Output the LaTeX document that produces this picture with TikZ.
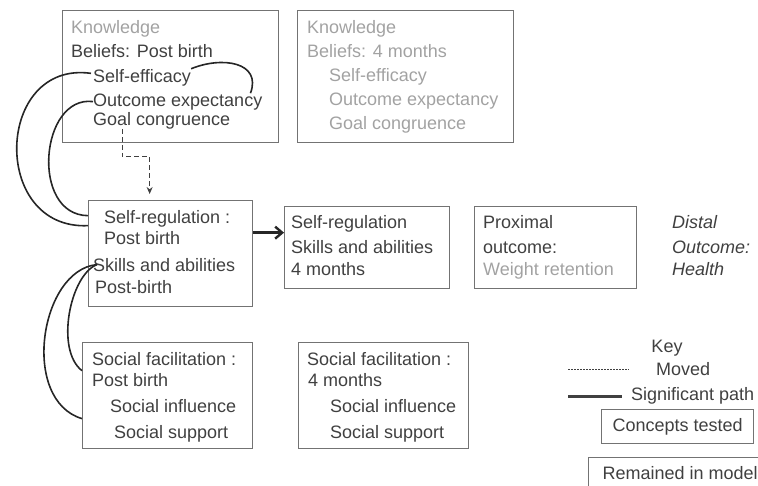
\documentclass[tikz,border=0pt]{standalone}
\usepackage{fontspec}
\setmainfont{Liberation Sans}
\usetikzlibrary{arrows.meta}
\definecolor{txtdark}{HTML}{404040}
\definecolor{txtlight}{HTML}{A2A2A2}
\definecolor{boxgray}{HTML}{737373}
\definecolor{pathdark}{HTML}{262626}

\begin{document}
\begin{tikzpicture}[x = 1pt, y = -1pt,
    box/.style = {draw = boxgray, line width = 1.3pt, anchor = north west, inner sep = 0pt},
    txt/.style = {anchor = base west, inner sep = 0pt, text = txtdark, font = \fontsize{18}{21}\selectfont},
    pale/.style = {txt, text = txtlight},
    sig/.style = {draw = pathdark, line width = 1.6pt},
    moved/.style = {draw = txtdark, line width = 1pt, dash pattern = on 5pt off 3pt}]
  \path [use as bounding box, clip] (0,0) rectangle (758,485);

  % beliefs
  \node [box, minimum width = 216pt, minimum height = 132pt] (beliefs0) at (62,10) {};
  \node [pale] (know0) at (71,33) {Knowledge};
  \node [txt] (bel0) at (71,57) {Beliefs: Post birth};
  \node [txt] (se0) at (93,82) {Self-efficacy};
  \node [txt] (oe0) at (93,106) {Outcome expectancy};
  \node [txt] (gc0) at (93,125) {Goal congruence};

  \node [box, minimum width = 216pt, minimum height = 132pt] (beliefs4) at (297,10) {};
  \node [pale] (know4) at (307,33) {Knowledge};
  \node [pale] (bel4) at (307,57) {Beliefs: 4 months};
  \node [pale] (se4) at (329,81) {Self-efficacy};
  \node [pale] (oe4) at (329,105) {Outcome expectancy};
  \node [pale] (gc4) at (329,129) {Goal congruence};

  % self-regulation and outcomes
  \node [box, minimum width = 164pt, minimum height = 106pt] (selfreg0) at (88,200) {};
  \node [txt] (sr0) at (104,223) {Self-regulation :};
  \node [txt] (pb0) at (104,244) {Post birth};
  \node [txt] (sk0) at (93,271) {Skills and abilities};
  \node [txt] (pbb0) at (95,293) {Post-birth};

  \node [box, minimum width = 165pt, minimum height = 82pt] (selfreg4) at (284,206) {};
  \node [txt] (sr4) at (291,228) {Self-regulation};
  \node [txt] (sk4) at (291,253) {Skills and abilities};
  \node [txt] (fm4) at (291,275) {4 months};

  \node [box, minimum width = 162pt, minimum height = 82pt] (proximal) at (474,206) {};
  \node [txt] (prox1) at (483,228) {Proximal};
  \node [txt] (prox2) at (483,253) {outcome:};
  \node [pale] (prox3) at (483,275) {Weight retention};

  \node [txt] (dist1) at (672,228) {\itshape Distal};
  \node [txt] (dist2) at (672,253) {\itshape Outcome:};
  \node [txt] (dist3) at (672,275) {\itshape Health};

  % social facilitation
  \node [box, minimum width = 170pt, minimum height = 106pt] (social0) at (82,342) {};
  \node [txt] (sf0) at (92,365) {Social facilitation :};
  \node [txt] (pb1) at (92,386) {Post birth};
  \node [txt] (si0) at (110,412) {Social influence};
  \node [txt] (ss0) at (114,438) {Social support};

  \node [box, minimum width = 170pt, minimum height = 106pt] (social4) at (298,342) {};
  \node [txt] (sf4) at (307,365) {Social facilitation :};
  \node [txt] (fm5) at (308,386) {4 months};
  \node [txt] (si4) at (330,412) {Social influence};
  \node [txt] (ss4) at (330,438) {Social support};

  % paths
  \draw [sig] (se0.north east) .. controls (222,56) and (262,62) .. ([xshift = -12pt]oe0.north east);
  \draw [sig] ([xshift = -2pt, yshift = 4pt]se0.west) .. controls (-5,60) and (-10,230) .. ([yshift = 28pt]selfreg0.west);
  \draw [sig] (oe0.west) .. controls (40,95) and (30,215) .. ([yshift = 38pt]selfreg0.west);
  \draw [sig] ([xshift = 4pt]sk0.west) .. controls (40,270) and (20,400) .. ([yshift = -23pt]social0.west);
  \draw [sig] ([xshift = 4pt]sk0.west) .. controls (70,275) and (55,350) .. ([yshift = 25pt]social0.west);
  \draw [moved, -{Stealth[length = 7pt, width = 6pt]}] ([xshift = 29pt]gc0.south west) -- ++(0,28) -| ([xshift = -21pt, yshift = 6pt]selfreg0.north);
  \coordinate (arr) at ([yshift = 21pt]selfreg0.east);
  \draw [sig, line width = 2.4pt, -{Straight Barb[length = 7pt, width = 12pt]}] (arr) -- (arr -| selfreg4.west);

  % key
  \node [txt, anchor = base] (key) at (667,352) {Key};
  \node [txt] (movedtxt) at (656,375) {Moved};
  \node [txt] (sigtxt) at (631,400) {Significant path};
  \coordinate (kmoved) at (568,369);
  \coordinate (ksig) at (568,396);
  \draw [draw = txtdark, line width = .8pt, dash pattern = on 1.5pt off 1.5pt] (kmoved) -- ++(61,0);
  \draw [draw = txtdark, line width = 3pt] (ksig) -- ++(54,0);
  \node [box, txt, anchor = north west, minimum width = 152pt, minimum height = 34pt] (tested) at (601,409) {Concepts tested};
  \node [box, txt, anchor = north west, minimum height = 30pt, inner xsep = 14pt] (remained) at (588,457) {Remained in model};
\end{tikzpicture}
\end{document}
